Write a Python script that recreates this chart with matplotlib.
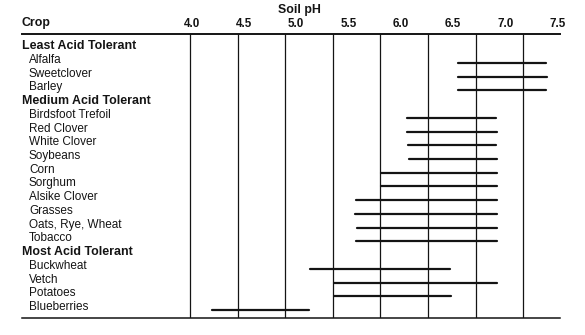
import numpy as np
import matplotlib.pyplot as plt

plt.rcParams["font.family"] = ["Liberation Sans", "DejaVu Sans"]

# crop groups and the pH range each crop tolerates
group_names = ["Least Acid Tolerant", "Medium Acid Tolerant", "Most Acid Tolerant"]

least_crops = ["Alfalfa", "Sweetclover", "Barley"]
least_low = [6.55, 6.55, 6.55]
least_high = [7.39, 7.40, 7.39]

medium_crops = [
    "Birdsfoot Trefoil", "Red Clover", "White Clover", "Soybeans", "Corn",
    "Sorghum", "Alsike Clover", "Grasses", "Oats, Rye, Wheat", "Tobacco",
]
medium_low = [6.06, 6.06, 6.07, 6.08, 5.81, 5.81, 5.57, 5.56, 5.58, 5.57]
medium_high = [6.91, 6.92, 6.91, 6.92, 6.92, 6.92, 6.92, 6.92, 6.92, 6.92]

most_crops = ["Buckwheat", "Vetch", "Potatoes", "Blueberries"]
most_low = [5.13, 5.36, 5.36, 4.19]
most_high = [6.47, 6.92, 6.48, 5.12]

ph_ticks = [4.0, 4.5, 5.0, 5.5, 6.0, 6.5, 7.0, 7.5]
ph_labels = ["4.0", "4.5", "5.0", "5.5", "6.0", "6.5", "7.0", "7.5"]

# column rules of the table
rule_x = np.linspace(3.984, 7.173, 8)

ink = "#141414"

fig = plt.figure(figsize=(5.85, 3.35), dpi=100)
ax = fig.add_axes([0.0376, 0.0493, 0.9197, 0.8507])
ax.set_xlim(2.376, 7.524)
ax.set_ylim(19.622, -1.150)

for rx in rule_x:
    ax.axvline(rx, color=ink, lw=0.9, zorder=1)

label_tf = ax.get_yaxis_transform()
row = 0
sections = [
    (least_crops, least_low, least_high),
    (medium_crops, medium_low, medium_high),
    (most_crops, most_low, most_high),
]
for name, (crops, lows, highs) in zip(group_names, sections):
    ax.text(0.0, row, name, transform=label_tf, fontsize=8.9,
            fontweight="bold", color=ink, va="baseline", ha="left")
    row += 1
    rows = np.arange(row, row + len(crops))
    for r, crop in zip(rows, crops):
        ax.text(0.013, r, crop, transform=label_tf, fontsize=8.5,
                color=ink, va="baseline", ha="left")
    ax.hlines(rows, lows, highs, color=ink, lw=1.6, capstyle="round",
              zorder=3)
    row += len(crops)

ax.xaxis.tick_top()
ax.set_xticks(ph_ticks)
ax.set_xticklabels(ph_labels, fontsize=8.4, fontweight="bold", color=ink)
ax.tick_params(axis="x", length=0, pad=2.4)
ax.set_yticks([])

for side in ["left", "right"]:
    ax.spines[side].set_visible(False)
ax.spines["top"].set_linewidth(1.4)
ax.spines["bottom"].set_linewidth(1.1)
ax.spines["top"].set_color(ink)
ax.spines["bottom"].set_color(ink)

fig.text(22 / 585, 0.9209, "Crop", fontsize=8.9, fontweight="bold",
         color=ink, va="baseline", ha="left")
fig.text(0.5111, 0.9603, "Soil pH", fontsize=8.9, fontweight="bold",
         color=ink, va="baseline", ha="center")

fig.savefig("out.png", dpi=100)
